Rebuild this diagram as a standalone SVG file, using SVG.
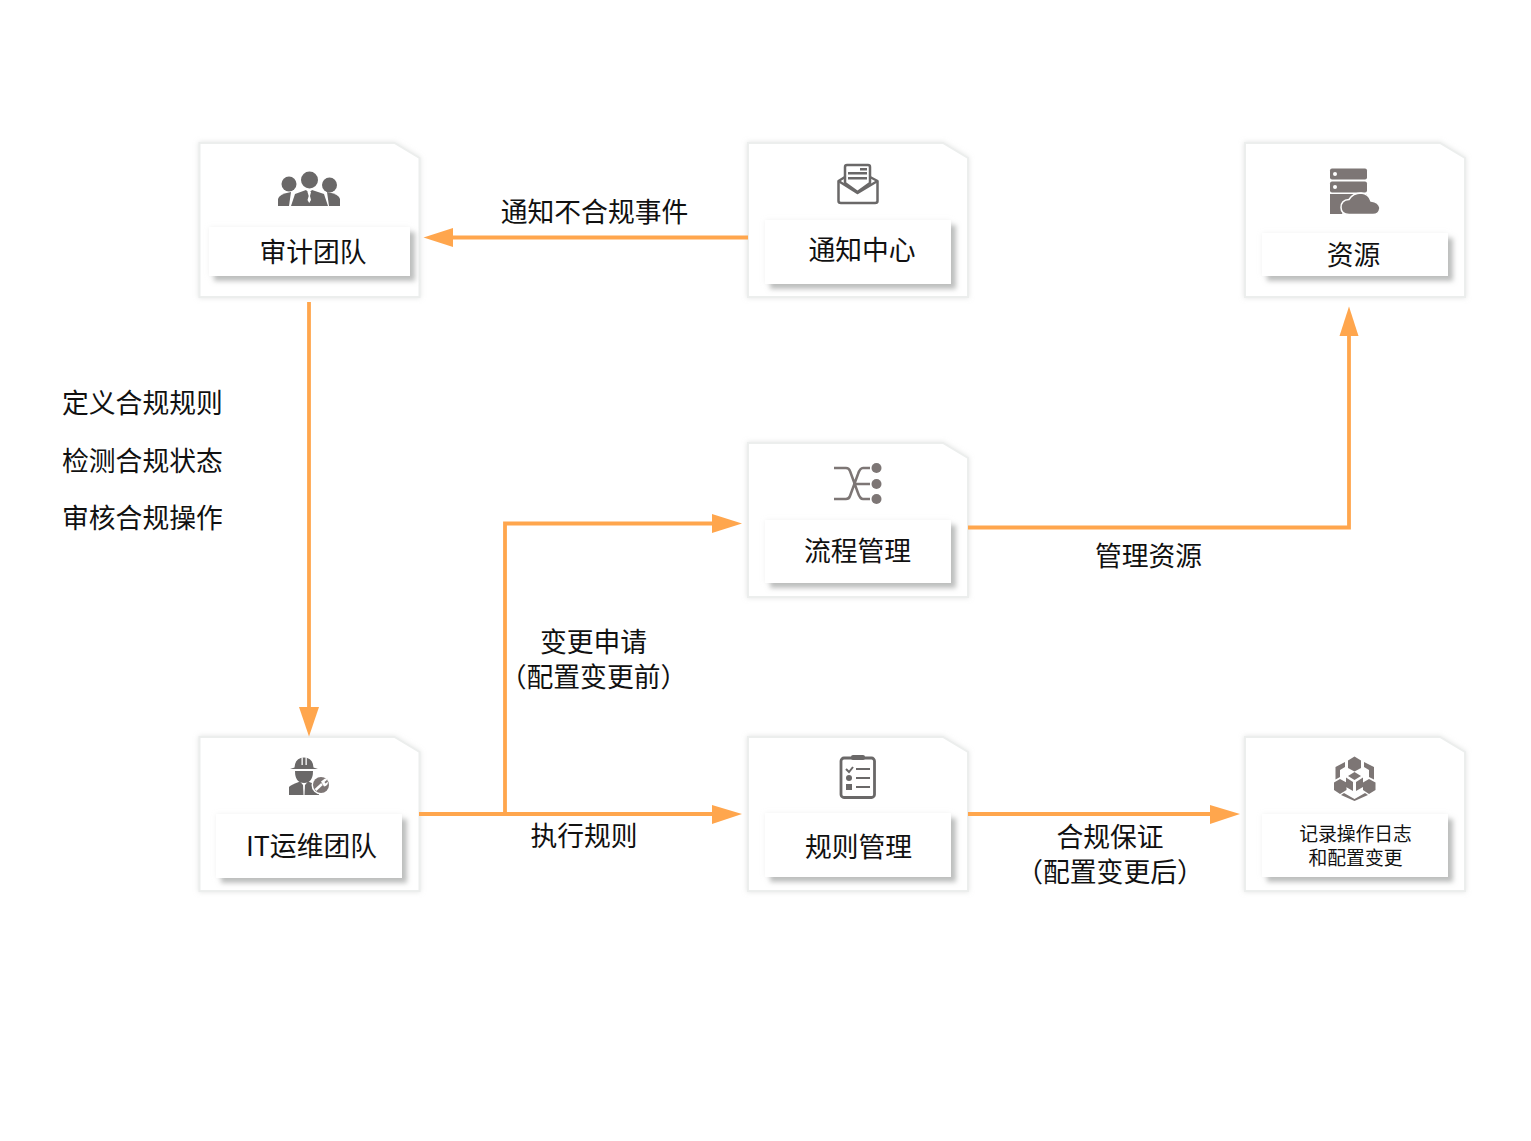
<svg xmlns="http://www.w3.org/2000/svg" width="1531" height="1141" viewBox="0 0 1531 1141">
<style>
text{font-family:"Noto Sans CJK SC","Noto Sans",sans-serif;font-size:26.8px;fill:#111;text-anchor:middle}
.l{text-anchor:start}
.s{font-size:18.8px}
.card{fill:#fff;stroke:#eceeed;stroke-width:2;filter:url(#cs)}
.lab{fill:#fff;filter:url(#ls)}
.c{fill:none;stroke:#ffa64d;stroke-width:3.800}
.h{fill:#ffa64d;stroke:none}
.i{fill:#6a6868}
.o{fill:none;stroke:#6a6868;stroke-width:2.500;stroke-linejoin:round}
.k{fill:#7d7675}
.w{fill:#fff}
</style>
<defs>
<filter id="cs" x="-5%" y="-5%" width="110%" height="110%"><feDropShadow dx="0" dy="0" stdDeviation="2.500" flood-color="#c4c8c6" flood-opacity=".5"/></filter>
<filter id="ls" x="-8%" y="-25%" width="116%" height="160%">
<feGaussianBlur in="SourceAlpha" stdDeviation="2.400" result="b"/>
<feOffset in="b" dx="4.500" dy="4.500" result="o"/>
<feFlood flood-color="#a8aaa9" flood-opacity=".75"/>
<feComposite in2="o" operator="in" result="s"/>
<feFlood flood-color="#d8dad9" flood-opacity=".35"/>
<feComposite in2="b" operator="in" result="g"/>
<feMerge><feMergeNode in="g"/><feMergeNode in="s"/><feMergeNode in="SourceGraphic"/></feMerge>
</filter>
<path id="cardshape" d="M0 0H195L220 15V154H0Z"/>
</defs>

<g id="node-audit">
<use href="#cardshape" x="199.500" y="143" class="card"/>
<rect class="lab" x="209" y="227" width="201" height="49"/>
<g class="i">
<circle cx="289" cy="184" r="7.500"/><circle cx="309.500" cy="180" r="8.500"/><circle cx="329.500" cy="185" r="7.500"/>
<path d="M278 206V199Q279 194 291 192L289 206Z"/><path d="M340 206V199Q339 194 327 192L329 206Z"/>
<path d="M291 206L295 194L306 190L309 193L312 190L324 194L328 206Z"/>
</g>
<path class="w" d="M307.500 192H311L310 196L311 200L309.200 203L307.500 200L308.700 196Z"/>
<text x="313" y="262">审计团队</text>
</g>

<g id="node-notify">
<use href="#cardshape" x="748" y="143" class="card"/>
<rect class="lab" x="765" y="220" width="186" height="64"/>
<path class="o" d="M845 172V167Q845 165 847 165H868Q870 165 870 167V183L857.500 192L845 183Z"/>
<path class="o" d="M845 177L838.500 181V201Q838.500 203 841 203H875Q877.500 203 877.500 201V181L870 177"/>
<path class="o" d="M838.500 181L857.500 193L877.500 181"/>
<rect class="i" x="848" y="172" width="19" height="2.500"/><rect class="i" x="848" y="177" width="19" height="2.500"/><rect class="i" x="860" y="168" width="7" height="2.500"/>
<text x="862" y="260">通知中心</text>
</g>

<g id="node-resource">
<use href="#cardshape" x="1245" y="143" class="card"/>
<rect class="lab" x="1262" y="233" width="186" height="43"/>
<g class="k">
<rect x="1330" y="168.500" width="37" height="11" rx="2"/><rect x="1330" y="181.500" width="37" height="11" rx="2"/>
<path d="M1330 194H1367V198H1350L1342 214H1330Z"/>
</g>
<circle class="w" cx="1335" cy="174" r="2"/><circle class="w" cx="1335" cy="187" r="2"/>
<path class="k" stroke="#fff" stroke-width="1.500" d="M1349 214.500Q1341 214 1341 207.500Q1341 200 1349 199.500Q1353 193 1361 193Q1369 194 1371 201Q1379 202 1380 208Q1379 214.500 1373 214.500Z"/>
<text x="1353.500" y="265">资源</text>
</g>

<g id="node-process">
<use href="#cardshape" x="748" y="443" class="card"/>
<rect class="lab" x="765" y="520" width="186" height="63"/>
<path fill="none" stroke="#7d7675" stroke-width="2.500" d="M834 468H846Q849 468 850 471L858 493Q860 499 863 499H870M834 499H846Q849 499 850 496L858 474Q860 468 863 468H870M853 484H870"/>
<circle class="k" cx="876.500" cy="468" r="5"/><circle class="k" cx="876.500" cy="484" r="5"/><circle class="k" cx="876.500" cy="499" r="5"/>
<text x="857.500" y="561">流程管理</text>
</g>

<g id="node-ops">
<use href="#cardshape" x="199.500" y="737" class="card"/>
<rect class="lab" x="216" y="814" width="186" height="64"/>
<g class="i">
<path d="M290 769L294.500 767.500Q295 758 304 757.500Q313 758 313.500 767.500L318 769Z"/>
<path d="M295 771H313Q313 783 304 783Q295 783 295 771Z"/>
<path d="M289 795V787Q290 785 300 781.500L303 785L303.500 795Z"/><path d="M319 795V787Q318 785 308 781.500L305 785L304.500 795Z"/>
</g>
<path class="w" d="M301.500 757.500H302.800V765H301.500ZM305.500 757.500H306.800V765H305.500Z"/>
<circle class="w" cx="321" cy="785" r="9.500"/>
<circle class="k" cx="321" cy="785" r="8"/>
<path fill="none" stroke="#fff" stroke-width="2.500" d="M315.500 790L322 784"/><path class="w" d="M321 781.500L325 778.500L327.500 779.500L324.500 782L325.500 783.500L328 781.500Q328 786 324 786.500Z"/>
<text x="311.500" y="856">IT运维团队</text>
</g>

<g id="node-rules">
<use href="#cardshape" x="748" y="737" class="card"/>
<rect class="lab" x="765" y="813" width="186" height="64"/>
<rect x="841" y="758" width="33.500" height="39.500" rx="3" fill="none" stroke="#6a6868" stroke-width="2.800"/>
<rect class="i" x="851" y="755" width="14" height="5" rx="2"/>
<path fill="none" stroke="#6a6868" stroke-width="2" d="M846 769L849 772L853 767"/>
<g class="i">
<rect x="856" y="768" width="14" height="2"/><rect x="856" y="777" width="14" height="2"/><rect x="856" y="786" width="14" height="2"/>
<circle cx="849" cy="778" r="3"/><rect x="846" y="784" width="6" height="6"/>
</g>
<text x="858.500" y="857">规则管理</text>
</g>

<g id="node-log">
<use href="#cardshape" x="1245" y="737" class="card"/>
<rect class="lab" x="1262" y="814" width="186" height="63"/>
<g class="k">
<path d="M1354.500 756.500L1361 760.500V768L1354.500 771.500L1348 768V760.500Z"/>
<path d="M1345 762V767L1340 770V777L1335.500 779.500V767Z"/>
<path d="M1364 762V767L1369 770V777L1374 779.500V767Z"/>
<path d="M1354.500 772L1361 776L1354.500 780L1348 776Z"/>
<path d="M1346 777.500L1353 782V791L1346 787Z"/>
<path d="M1363 777.500L1356 782V791L1363 787Z"/>
<path d="M1340 779L1346.500 782.500V790L1340 794L1334 790V782.500Z"/>
<path d="M1369 779L1375.500 782.500V790L1369 794L1363 790V782.500Z"/>
<path d="M1344 793L1354.500 799L1365 793L1368 795L1354.500 801L1341 795Z"/>
</g>
<text class="s" x="1355.500" y="841">记录操作日志<tspan x="1355.500" dy="24">和配置变更</tspan></text>
</g>

<g id="connectors">
<path class="c" d="M748 237.500H445"/><path class="h" d="M423.500 237.500L453 228V247Z"/>
<path class="c" d="M309 302V712"/><path class="h" d="M309 736.500L299 707H319Z"/>
<path class="c" d="M419 814H718"/><path class="h" d="M742 814L712 805V824Z"/>
<path class="c" d="M505 814V523.500H718"/><path class="h" d="M742 523.500L712 514V533Z"/>
<path class="c" d="M968 527.500H1349V330"/><path class="h" d="M1349 306.500L1358.500 336H1339.500Z"/>
<path class="c" d="M968 814H1216"/><path class="h" d="M1240 814L1210 805V824Z"/>
</g>

<g id="labels">
<text x="594.500" y="222">通知不合规事件</text>
<text class="l" x="62" y="413">定义合规规则</text>
<text class="l" x="62" y="471">检测合规状态</text>
<text class="l" x="62" y="528">审核合规操作</text>
<text x="593.500" y="652">变更申请<tspan x="593.500" dy="34.500">（配置变更前）</tspan></text>
<text x="584" y="846">执行规则</text>
<text x="1148.500" y="566">管理资源</text>
<text x="1110" y="847">合规保证<tspan x="1110" dy="35">（配置变更后）</tspan></text>
</g>
</svg>
